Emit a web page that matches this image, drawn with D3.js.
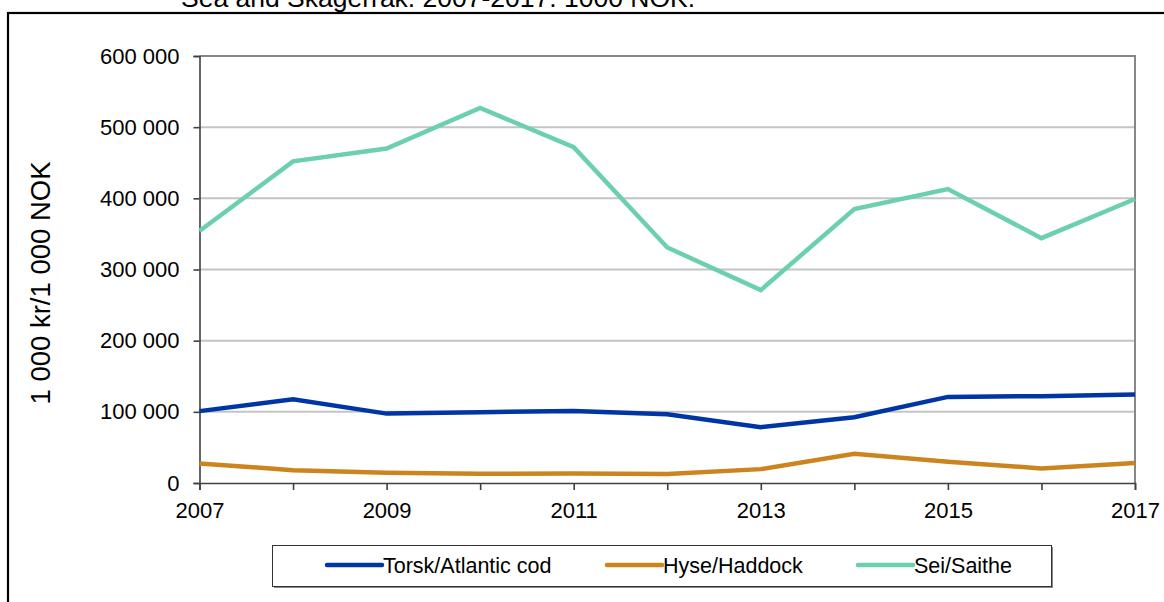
<!DOCTYPE html>
<html><head><meta charset="utf-8">
<script src="https://cdn.jsdelivr.net/npm/d3@7/dist/d3.min.js"></script>
<style>
html,body{margin:0;padding:0;background:#fff;}
svg{display:block;font-family:Arial,"Liberation Sans",sans-serif;}
</style></head>
<body>
<svg id="chart" width="1164" height="602"></svg>
<script>
const years = [2007,2008,2009,2010,2011,2012,2013,2014,2015,2016,2017];
const cod = [101000,117500,97500,99500,101000,96500,78500,92500,121000,122000,124500];
const haddock = [27500,18000,14500,13000,13500,12500,19500,41000,30000,20500,28000];
const saithe = [354000,452000,470000,527000,472000,331000,271000,385000,413000,344000,399000];
const seriesNames = ["Torsk/Atlantic cod","Hyse/Haddock","Sei/Saithe"];
const seriesColors = ["#0036a3","#cc841f","#6ccfb0"];
const yTicks = [0,100000,200000,300000,400000,500000,600000];
const xLabelYears = [2007,2009,2011,2013,2015,2017];
const titleText = "Sea and Skagerrak. 2007-2017. 1000 NOK.";
const yTitle = "1 000 kr/1 000 NOK";

const svg = d3.select("#chart");
const L = 199.5, R = 1135, T = 56, B = 483;

// outer frame
svg.append("rect").attr("x",8).attr("y",13).attr("width",1170).attr("height",600)
  .attr("fill","none").attr("stroke","#000").attr("stroke-width",2.2);
svg.append("text").attr("x",181).attr("y",7).attr("font-size",26.5).attr("fill","#000").text(titleText);

const x = d3.scaleLinear().domain([2007,2017]).range([L,R]);
const y = d3.scaleLinear().domain([0,600000]).range([B,T]);
const fmt = v => d3.format(",")(v).replace(/,/g," ");

// gridlines
svg.append("g").selectAll("line").data(yTicks.filter(v=>v>0&&v<600000)).join("line")
  .attr("x1",L).attr("x2",R).attr("y1",d=>y(d)).attr("y2",d=>y(d))
  .attr("stroke","#c4c4c4").attr("stroke-width",2);
// plot border top & right
svg.append("path").attr("d",`M${L},${y(600000)}H${R}V${B}`).attr("fill","none")
  .attr("stroke","#878787").attr("stroke-width",2);

// y axis
const yAxis = d3.axisLeft(y).tickValues(yTicks).tickFormat(fmt).tickSize(6).tickPadding(14);
const gy = svg.append("g").attr("transform",`translate(${L},0)`).call(yAxis);
gy.select(".domain").attr("stroke","#404040").attr("stroke-width",1.6);
gy.selectAll(".tick line").attr("stroke","#404040").attr("stroke-width",1.6);
gy.selectAll(".tick text").attr("font-size",22).attr("fill","#000").attr("font-family","Arial,'Liberation Sans',sans-serif");

// x axis
const xAxis = d3.axisBottom(x).tickValues(years).tickSize(7).tickPadding(12)
  .tickFormat(d => xLabelYears.includes(d) ? String(d) : "");
const gx = svg.append("g").attr("transform",`translate(0,${B})`).call(xAxis);
gx.select(".domain").attr("stroke","#404040").attr("stroke-width",1.6);
gx.selectAll(".tick line").attr("stroke","#404040").attr("stroke-width",1.6);
gx.selectAll(".tick text").attr("font-size",22).attr("fill","#000").attr("font-family","Arial,'Liberation Sans',sans-serif");

// lines
const data = [cod, haddock, saithe];
const line = d3.line().x((d,i)=>x(years[i])).y(d=>y(d));
svg.append("g").selectAll("path").data([2,0,1].map(k=>({v:data[k],c:seriesColors[k]}))).join("path")
  .attr("d",d=>line(d.v)).attr("fill","none").attr("stroke",d=>d.c).attr("stroke-width",4.5)
  .attr("stroke-linejoin","miter");

// legend
const lg = svg.append("g");
lg.append("rect").attr("x",274).attr("y",547).attr("width",779).attr("height",41).attr("fill","#888");
lg.append("rect").attr("x",272.5).attr("y",545.5).attr("width",779).attr("height",41)
  .attr("fill","#fff").attr("stroke","#333").attr("stroke-width",1);
const legX = [327,607,858];
const items = lg.selectAll("g.item").data(seriesNames).join("g").attr("class","item")
  .attr("transform",(d,i)=>`translate(${legX[i]},565)`);
items.append("line").attr("x1",0).attr("x2",55).attr("y1",0).attr("y2",0)
  .attr("stroke",(d,i)=>seriesColors[i]).attr("stroke-width",4.5).attr("stroke-linecap","round");
items.append("text").attr("x",56).attr("y",8).attr("font-size",21.5).attr("fill","#000").text(d=>d);

// y title
svg.append("text").attr("transform","translate(50,283) rotate(-90)").attr("text-anchor","middle")
  .attr("font-size",27.5).attr("fill","#000").text(yTitle);
</script>
</body></html>
